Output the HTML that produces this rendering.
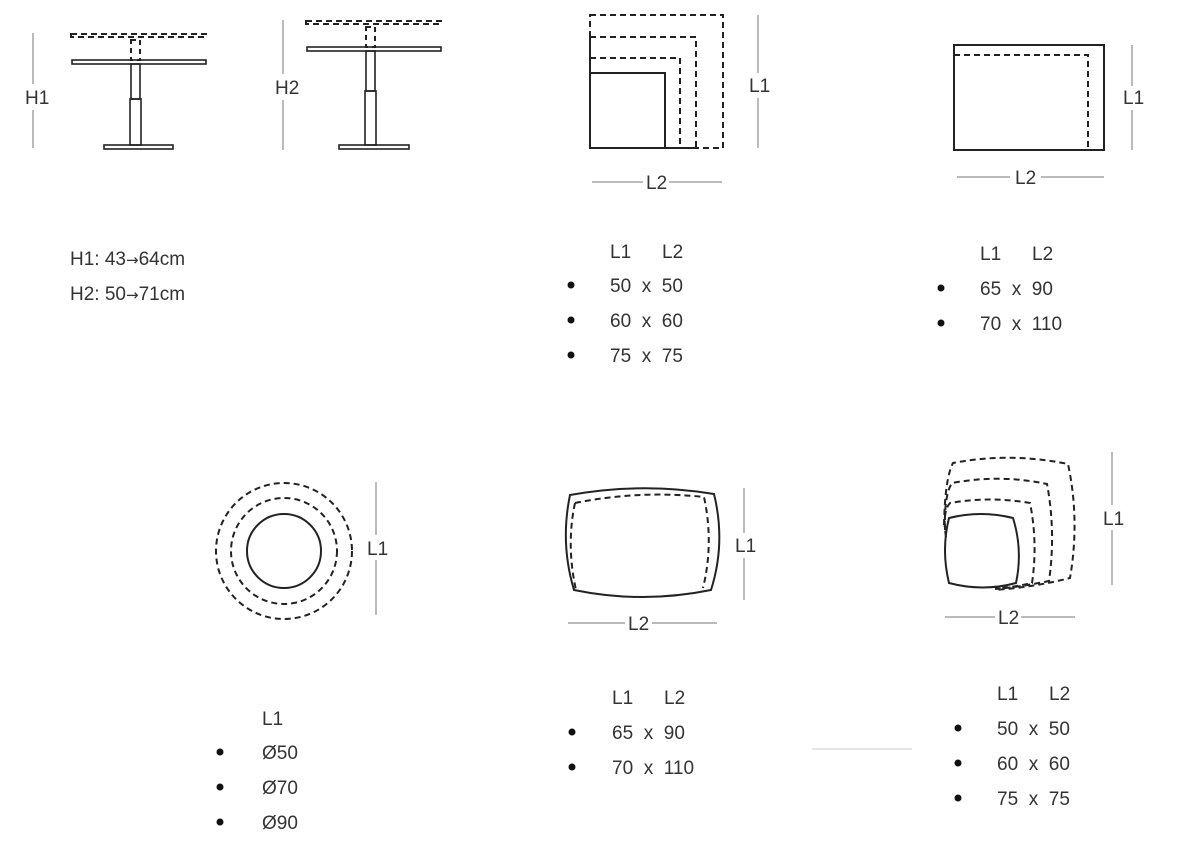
<!DOCTYPE html>
<html><head><meta charset="utf-8"><style>
html,body{margin:0;padding:0;background:#fff;}
svg{display:block;}
text{font-family:"Liberation Sans Narrow","Liberation Sans",sans-serif;fill:#333;font-size:19px;}
</style></head><body>
<svg width="1200" height="868" viewBox="0 0 1200 868" xmlns="http://www.w3.org/2000/svg">
<g fill="none" stroke="#222" stroke-width="1.6">
<!-- table 1 -->
<line x1="33" y1="33" x2="33" y2="84" stroke="#777" stroke-width="1"/>
<line x1="33" y1="110" x2="33" y2="148" stroke="#777" stroke-width="1"/>
<rect x="71" y="34" width="135" height="3" stroke-dasharray="6,4" stroke-width="2"/>
<rect x="131" y="40" width="9" height="20" stroke-dasharray="5,4" stroke-width="2"/>
<rect x="72" y="60" width="134" height="4"/>
<rect x="131" y="64" width="9" height="35"/>
<rect x="130" y="99" width="11" height="46"/>
<rect x="104" y="145" width="69" height="4"/>
<!-- table 2 -->
<line x1="283" y1="20" x2="283" y2="74" stroke="#777" stroke-width="1"/>
<line x1="283" y1="100" x2="283" y2="150" stroke="#777" stroke-width="1"/>
<rect x="306" y="21" width="135" height="3" stroke-dasharray="6,4" stroke-width="2"/>
<rect x="366" y="27" width="9" height="20" stroke-dasharray="5,4" stroke-width="2"/>
<rect x="307" y="47" width="134" height="4"/>
<rect x="366" y="51" width="9" height="40"/>
<rect x="365" y="91" width="11" height="54"/>
<rect x="339" y="145" width="70" height="4"/>
<!-- square -->
<g stroke-width="2">
<rect x="590" y="15" width="133" height="133" stroke-dasharray="6,4"/>
<rect x="590" y="37" width="106" height="111" stroke-dasharray="6,4"/>
<rect x="590" y="58" width="90" height="90" stroke-dasharray="6,4"/>
<rect x="590" y="73" width="75" height="75"/>
</g>
<line x1="758" y1="15" x2="758" y2="73" stroke="#777" stroke-width="1"/>
<line x1="758" y1="98" x2="758" y2="148" stroke="#777" stroke-width="1"/>
<line x1="592" y1="182" x2="643" y2="182" stroke="#777" stroke-width="1"/>
<line x1="669" y1="182" x2="722" y2="182" stroke="#777" stroke-width="1"/>
<!-- rect -->
<rect x="954" y="45" width="150" height="105" stroke-width="2"/>
<path d="M954 55 H1088 V150" stroke-dasharray="6,4" stroke-width="2"/>
<line x1="1132" y1="45" x2="1132" y2="86" stroke="#777" stroke-width="1"/>
<line x1="1132" y1="110" x2="1132" y2="150" stroke="#777" stroke-width="1"/>
<line x1="957" y1="177" x2="1010" y2="177" stroke="#777" stroke-width="1"/>
<line x1="1041" y1="177" x2="1104" y2="177" stroke="#777" stroke-width="1"/>
<!-- circle -->
<g stroke-width="2">
<circle cx="284" cy="551" r="37"/>
<circle cx="284" cy="551" r="53" stroke-dasharray="6,4"/>
<circle cx="284" cy="551" r="68" stroke-dasharray="6,4"/>
</g>
<line x1="376" y1="482" x2="376" y2="535" stroke="#777" stroke-width="1"/>
<line x1="376" y1="560" x2="376" y2="615" stroke="#777" stroke-width="1"/>
<!-- pillow rect -->
<g stroke-width="2">
<path d="M570 495 Q642 482 714 494 Q726 543 711 590 Q642 604 574 590 Q560 543 570 495 Z"/>
<path d="M575 503 Q640 490 704 497 Q714 543 703 588" stroke-dasharray="6,4"/>
<path d="M575 503 Q566 545 576 590" stroke-dasharray="6,4"/>
</g>
<line x1="744" y1="488" x2="744" y2="533" stroke="#777" stroke-width="1"/>
<line x1="744" y1="558" x2="744" y2="600" stroke="#777" stroke-width="1"/>
<line x1="568" y1="623" x2="625" y2="623" stroke="#777" stroke-width="1"/>
<line x1="652" y1="623" x2="717" y2="623" stroke="#777" stroke-width="1"/>
<!-- squircle -->
<g stroke-width="2">
<path d="M949 518 Q981 510 1013 518 Q1023 550 1016 583 Q983 592 949 583 Q941 550 949 518 Z"/>
<path d="M946 537 Q942 512 950 503 Q990 496 1030 503 Q1038 543 1032 583 Q1010 588 995 588" stroke-dasharray="6,4"/>
<path d="M945 530 Q944 495 952 483 Q1000 474 1047 484 Q1056 532 1049 581 Q1020 587 995 589" stroke-dasharray="6,4"/>
<path d="M944 525 Q945 478 953 463 Q1010 452 1068 464 Q1080 520 1070 578 Q1035 587 995 590" stroke-dasharray="6,4"/>
</g>
<line x1="1112" y1="452" x2="1112" y2="505" stroke="#777" stroke-width="1"/>
<line x1="1112" y1="530" x2="1112" y2="585" stroke="#777" stroke-width="1"/>
<line x1="945" y1="617" x2="995" y2="617" stroke="#777" stroke-width="1"/>
<line x1="1021" y1="617" x2="1075" y2="617" stroke="#777" stroke-width="1"/>
<line x1="812" y1="749" x2="912" y2="749" stroke="#ccc" stroke-width="1"/>
</g>
<g fill="#111">
<circle cx="571" cy="285" r="3.5"/><circle cx="571" cy="320" r="3.5"/><circle cx="571" cy="355" r="3.5"/>
<circle cx="941" cy="288" r="3.5"/><circle cx="941" cy="323" r="3.5"/>
<circle cx="220" cy="752" r="3.5"/><circle cx="220" cy="787" r="3.5"/><circle cx="220" cy="822" r="3.5"/>
<circle cx="572" cy="732" r="3.5"/><circle cx="572" cy="767" r="3.5"/>
<circle cx="958" cy="728" r="3.5"/><circle cx="958" cy="763" r="3.5"/><circle cx="958" cy="798" r="3.5"/>
</g>
<g>
<text x="25" y="104">H1</text>
<text x="275" y="94">H2</text>
<text x="749" y="92">L1</text>
<text x="646" y="189">L2</text>
<text x="1123" y="104">L1</text>
<text x="1015" y="184">L2</text>
<text x="367" y="555">L1</text>
<text x="735" y="552">L1</text>
<text x="628" y="630">L2</text>
<text x="1103" y="525">L1</text>
<text x="998" y="624">L2</text>

<text x="70" y="265">H1: 43<tspan font-family="DejaVu Sans" font-size="15">→</tspan>64cm</text>
<text x="70" y="300">H2: 50<tspan font-family="DejaVu Sans" font-size="15">→</tspan>71cm</text>

<text x="610" y="258">L1</text><text x="662" y="258">L2</text>
<text x="610" y="292" xml:space="preserve">50  x  50</text>
<text x="610" y="327" xml:space="preserve">60  x  60</text>
<text x="610" y="362" xml:space="preserve">75  x  75</text>

<text x="980" y="260">L1</text><text x="1032" y="260">L2</text>
<text x="980" y="295" xml:space="preserve">65  x  90</text>
<text x="980" y="330" xml:space="preserve">70  x  110</text>

<text x="262" y="725">L1</text>
<text x="262" y="759">Ø50</text>
<text x="262" y="794">Ø70</text>
<text x="262" y="829">Ø90</text>

<text x="612" y="704">L1</text><text x="664" y="704">L2</text>
<text x="612" y="739" xml:space="preserve">65  x  90</text>
<text x="612" y="774" xml:space="preserve">70  x  110</text>

<text x="997" y="700">L1</text><text x="1049" y="700">L2</text>
<text x="997" y="735" xml:space="preserve">50  x  50</text>
<text x="997" y="770" xml:space="preserve">60  x  60</text>
<text x="997" y="805" xml:space="preserve">75  x  75</text>
</g>
</svg>
</body></html>
